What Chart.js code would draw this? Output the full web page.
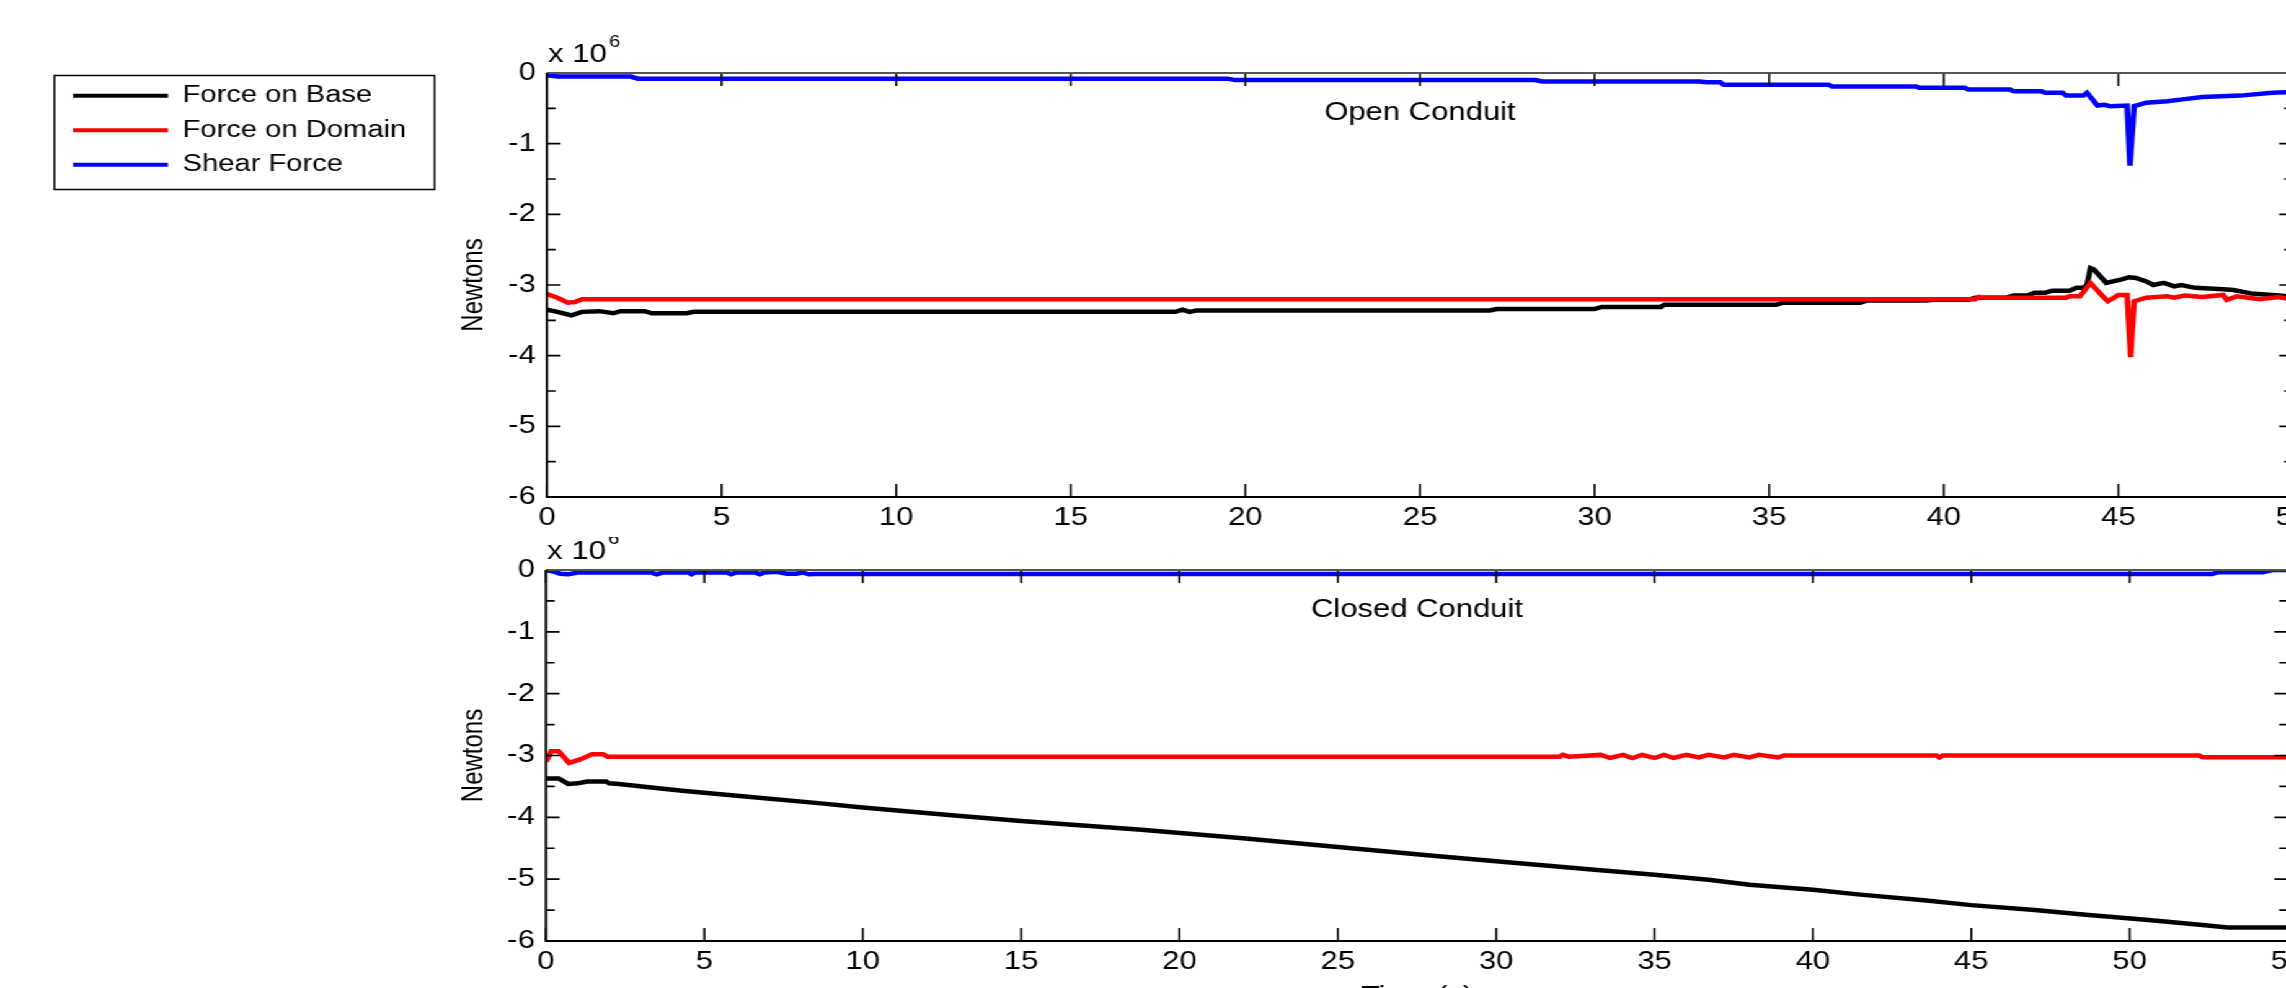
<!DOCTYPE html>
<html>
<head>
<meta charset="utf-8">
<title>Forces - open and closed conduit</title>
<script src="https://cdn.jsdelivr.net/npm/chart.js@4.4.1/dist/chart.umd.min.js"></script>
<style>
  html, body { margin: 0; padding: 0; background: #fff; overflow: hidden; width: 2286px; height: 988px; }
  /* the original figure is stretched sideways, so the whole drawing is too */
  #stretch { position: absolute; left: 0; top: 0; width: 1860px; height: 1016px; transform: scaleX(1.24); transform-origin: 0 0; }
  #stretch canvas { position: absolute; left: 0; }
  #openChart { top: 0; }
  #closedChart { top: 537px; }
</style>
</head>
<body>
<div id="stretch">
  <canvas id="openChart" width="1860" height="537"></canvas>
  <canvas id="closedChart" width="1860" height="479"></canvas>
</div>
<script>
// forces in 10^6 N, time in s
const seriesNames = ['Force on Base', 'Force on Domain', 'Shear Force'];
const seriesColors = ['#000000', '#ff0000', '#0000ff'];
const yTickLabels = [0, -1, -2, -3, -4, -5, -6];
const openTickLabels = [0, 5, 10, 15, 20, 25, 30, 35, 40, 45, 50];
const closedTickLabels = [0, 5, 10, 15, 20, 25, 30, 35, 40, 45, 50, 55];

// Open Conduit
const openBaseT = [0, 0.3, 0.7, 1.0, 1.5, 1.9, 2.1, 2.8, 3.0, 4.0, 4.2, 18.0, 18.2, 18.4, 18.6, 27.0, 27.2, 30.0, 30.2, 31.9, 32.0, 35.2, 35.4, 37.6, 37.8, 39.5, 39.7, 40.7, 40.9, 41.8, 42.0, 42.4, 42.6, 42.9, 43.1, 43.6, 43.8, 44.0, 44.1, 44.2, 44.3, 44.65, 45.1, 45.3, 45.5, 45.8, 46.0, 46.3, 46.6, 46.8, 47.2, 48.0, 48.3, 48.5, 48.8, 49.6, 50.0];
const openBaseF = [-3.35, -3.38, -3.43, -3.38, -3.37, -3.40, -3.37, -3.37, -3.40, -3.40, -3.38, -3.38, -3.35, -3.38, -3.36, -3.36, -3.34, -3.34, -3.31, -3.31, -3.28, -3.28, -3.25, -3.25, -3.22, -3.22, -3.21, -3.21, -3.18, -3.18, -3.15, -3.15, -3.11, -3.11, -3.08, -3.08, -3.04, -3.04, -3.00, -2.76, -2.78, -2.97, -2.92, -2.89, -2.90, -2.95, -3.00, -2.97, -3.02, -3.00, -3.04, -3.06, -3.07, -3.09, -3.12, -3.15, -3.17];

const openDomainT = [0, 0.3, 0.6, 0.8, 1.0, 40.9, 41.0, 41.1, 43.5, 43.6, 43.9, 44.2, 44.55, 44.7, 45.0, 45.25, 45.35, 45.45, 45.8, 46.4, 46.6, 46.9, 47.4, 48.0, 48.1, 48.4, 49.05, 49.6, 50.0];
const openDomainF = [-3.13, -3.18, -3.25, -3.24, -3.20, -3.20, -3.17, -3.18, -3.18, -3.16, -3.16, -2.97, -3.16, -3.23, -3.14, -3.14, -4.02, -3.23, -3.18, -3.16, -3.18, -3.15, -3.17, -3.14, -3.21, -3.16, -3.20, -3.17, -3.21];

const openShearT = [0, 0.3, 2.4, 2.6, 19.5, 19.7, 28.3, 28.5, 33.0, 33.2, 33.6, 33.7, 36.7, 36.8, 39.2, 39.3, 40.6, 40.7, 41.9, 42.0, 42.8, 42.9, 43.4, 43.5, 44.0, 44.1, 44.3, 44.4, 44.6, 44.76, 45.25, 45.33, 45.45, 45.8, 46.4, 46.9, 47.4, 48.5, 49.4, 50.0];
const openShearF = [-0.03, -0.05, -0.05, -0.08, -0.08, -0.10, -0.10, -0.12, -0.12, -0.13, -0.13, -0.165, -0.165, -0.19, -0.19, -0.21, -0.21, -0.235, -0.235, -0.26, -0.26, -0.28, -0.28, -0.32, -0.32, -0.28, -0.40, -0.46, -0.45, -0.47, -0.46, -1.31, -0.47, -0.42, -0.40, -0.37, -0.34, -0.32, -0.28, -0.27];

// Closed Conduit
const closedBaseT = [0, 0.4, 0.7, 1.0, 1.3, 1.9, 2.0, 2.3, 3.4, 4.3, 6.2, 8.6, 10.0, 12.9, 15.0, 18.8, 22.0, 25.0, 28.0, 30.0, 33.2, 35.0, 36.7, 38.0, 40.0, 41.5, 43.5, 45.0, 47.0, 48.7, 50.6, 52.3, 53.1, 55.0];
const closedBaseF = [-3.37, -3.37, -3.46, -3.45, -3.42, -3.42, -3.45, -3.46, -3.52, -3.57, -3.66, -3.77, -3.84, -3.97, -4.06, -4.20, -4.34, -4.48, -4.62, -4.71, -4.85, -4.93, -5.01, -5.09, -5.17, -5.25, -5.34, -5.42, -5.50, -5.58, -5.66, -5.74, -5.78, -5.78];

const closedDomainT = [0, 0.17, 0.4, 0.73, 1.1, 1.45, 1.8, 1.95, 32.0, 32.1, 32.3, 33.3, 33.6, 34.0, 34.3, 34.6, 35.0, 35.3, 35.6, 36.0, 36.4, 36.7, 37.2, 37.5, 38.0, 38.3, 38.9, 39.1, 43.9, 44.0, 44.1, 52.2, 52.3, 55.0];
const closedDomainF = [-3.10, -2.93, -2.93, -3.12, -3.06, -2.98, -2.98, -3.02, -3.02, -2.99, -3.02, -2.99, -3.04, -2.99, -3.04, -2.99, -3.04, -2.99, -3.04, -2.99, -3.03, -2.99, -3.03, -2.99, -3.03, -2.99, -3.03, -3.00, -3.00, -3.03, -3.00, -3.00, -3.03, -3.03];

const closedShearT = [0, 0.2, 0.45, 0.7, 1.0, 3.3, 3.5, 3.7, 4.5, 4.6, 4.7, 5.7, 5.85, 6.0, 6.6, 6.75, 6.9, 7.3, 7.6, 7.9, 8.1, 8.3, 8.5, 52.6, 52.8, 54.2, 54.5, 55.0];
const closedShearF = [0.0, -0.02, -0.06, -0.07, -0.04, -0.04, -0.07, -0.04, -0.04, -0.07, -0.04, -0.04, -0.07, -0.04, -0.04, -0.07, -0.04, -0.03, -0.06, -0.06, -0.04, -0.07, -0.065, -0.065, -0.035, -0.035, 0.0, 0.0];

const FONT = "'Liberation Sans', Arial, sans-serif";
Chart.defaults.font.family = FONT;
Chart.defaults.font.size = 25;
Chart.defaults.color = '#000';

// layout, in canvas units (x gets multiplied by 1.24 on screen)
const legendLeft = 47.9;
const legendWidth = 285;
const axisLeftEdge = legendLeft + legendWidth;
const newtonsX = 382;

function toPoints(ts, vs) {
    return ts.map((t, i) => ({ x: t, y: vs[i] }));
}

function makeDatasets(base, domain, shear) {
    return [base, domain, shear].map((pts, i) => ({
        label: seriesNames[i],
        data: pts,
        borderColor: seriesColors[i],
        backgroundColor: seriesColors[i],
        borderWidth: 4.5,
        pointRadius: 0,
        tension: 0,
        order: 3 - i   // red over black, blue over both
    }));
}

// MATLAB style box: inward ticks all round, the x 10^6 note and the panel caption
const matlabBox = {
    id: 'matlabBox',
    afterDatasetsDraw(chart, args, opts) {
        const { ctx, chartArea: a, scales: { x, y } } = chart;
        ctx.save();
        ctx.strokeStyle = '#000';
        ctx.lineWidth = 1.6;
        ctx.beginPath();
        x.ticks.forEach(t => {
            const px = x.getPixelForValue(t.value);
            ctx.moveTo(px, a.bottom); ctx.lineTo(px, a.bottom - 13);
            ctx.moveTo(px, a.top); ctx.lineTo(px, a.top + 13);
        });
        for (let v = y.min; v <= y.max + 1e-9; v += 0.5) {
            const py = y.getPixelForValue(v);
            const len = Number.isInteger(v) ? 11 : 7;
            ctx.moveTo(a.left, py); ctx.lineTo(a.left + len, py);
            ctx.moveTo(a.right, py); ctx.lineTo(a.right - len, py);
        }
        ctx.stroke();

        ctx.lineWidth = 2;
        ctx.strokeStyle = '#555';
        ctx.beginPath();
        ctx.moveTo(a.left, a.top); ctx.lineTo(a.right, a.top); ctx.lineTo(a.right, a.bottom);
        ctx.stroke();
        ctx.strokeStyle = '#000';
        ctx.beginPath();
        ctx.moveTo(a.left, a.top); ctx.lineTo(a.left, a.bottom); ctx.lineTo(a.right, a.bottom);
        ctx.stroke();

        ctx.fillStyle = '#000';
        ctx.textAlign = 'left';
        ctx.textBaseline = 'alphabetic';
        ctx.font = `25px ${FONT}`;
        ctx.fillText('x 10', a.left + 1, a.top - 11);
        const w = ctx.measureText('x 10').width;
        ctx.font = `16px ${FONT}`;
        ctx.fillText('6', a.left + 3 + w, a.top - 26);

        ctx.font = `25px ${FONT}`;
        ctx.textAlign = 'center';
        ctx.textBaseline = 'middle';
        ctx.fillText(opts.caption, (a.left + a.right) / 2, a.top + 40);
        ctx.restore();
    }
};

// frame round the legend
const legendFrame = {
    id: 'legendFrame',
    afterDraw(chart) {
        const legend = chart.legend;
        if (!legend || !legend.options.display) return;
        const hb = legend.legendHitBoxes;
        const last = hb[hb.length - 1];
        const left = Math.min(...hb.map(b => b.left)) - 15;
        const right = Math.max(...hb.map(b => b.left + b.width)) + 23;
        const top = hb[0].top - 8.5;
        const bottom = last.top + last.height + 13;
        const ctx = chart.ctx;
        ctx.save();
        ctx.strokeStyle = '#000';
        ctx.lineWidth = 1.5;
        ctx.strokeRect(left, top, right - left, bottom - top);
        ctx.restore();
    }
};

function xScale(ticks, height, title) {
    return {
        type: 'linear',
        min: ticks[0],
        max: ticks[ticks.length - 1],
        afterBuildTicks: s => { s.ticks = ticks.map(v => ({ value: v })); },
        afterFit: s => { s.height = height; s.paddingLeft = 0; s.paddingRight = 0; },
        grid: { display: false, drawTicks: false },
        border: { display: false },
        ticks: { padding: 6, maxRotation: 0, autoSkip: false },
        title: { display: !!title, text: title || '', padding: { top: 4, bottom: 4 } }
    };
}

function yScale(width) {
    return {
        type: 'linear',
        min: Math.min(...yTickLabels),
        max: Math.max(...yTickLabels),
        afterBuildTicks: s => { s.ticks = yTickLabels.map(v => ({ value: v })); },
        afterFit: s => { s.width = width; s.paddingTop = 0; s.paddingBottom = 0; },
        grid: { display: false, drawTicks: false },
        border: { display: false },
        ticks: { padding: 9 },
        title: { display: true, text: 'Newtons', font: { size: 24 }, padding: { top: newtonsX - axisLeftEdge - 14.4, bottom: 0 } }
    };
}

function createPanel(canvasId, datasets, opts) {
    const ctx = document.getElementById(canvasId).getContext('2d');
    return new Chart(ctx, {
        type: 'line',
        data: { datasets: datasets },
        options: {
            responsive: false,
            animation: false,
            events: [],
            layout: { padding: opts.padding },
            scales: {
                x: xScale(opts.xTicks, opts.xHeight, opts.xTitle),
                y: yScale(opts.yWidth)
            },
            plugins: {
                tooltip: { enabled: false },
                legend: {
                    display: opts.showLegend,
                    position: 'left',
                    align: 'start',
                    maxWidth: legendWidth,
                    labels: {
                        boxWidth: 76.6,
                        boxHeight: 4,
                        padding: 11,
                        font: { size: 23.5 },
                        generateLabels: chart => chart.data.datasets.map((ds, i) => ({
                            text: ds.label,
                            fillStyle: ds.borderColor,
                            strokeStyle: ds.borderColor,
                            lineWidth: 0,
                            hidden: false,
                            datasetIndex: i,
                            fontColor: '#000'
                        }))
                    }
                },
                matlabBox: { caption: opts.caption }
            }
        },
        plugins: [matlabBox, legendFrame]
    });
}

window.onload = function () {
    createPanel('openChart',
        makeDatasets(toPoints(openBaseT, openBaseF), toPoints(openDomainT, openDomainF), toPoints(openShearT, openShearF)),
        {
            caption: 'Open Conduit',
            showLegend: true,
            padding: { left: legendLeft, top: 73, right: 10.8, bottom: 0 },
            yWidth: 441.1 - axisLeftEdge,
            xTicks: openTickLabels,
            xHeight: 40
        });

    createPanel('closedChart',
        makeDatasets(toPoints(closedBaseT, closedBaseF), toPoints(closedDomainT, closedDomainF), toPoints(closedShearT, closedShearF)),
        {
            caption: 'Closed Conduit',
            showLegend: false,
            padding: { left: axisLeftEdge, top: 33, right: 14.8, bottom: 0 },
            yWidth: 440.3 - axisLeftEdge,
            xTicks: closedTickLabels,
            xHeight: 75,
            xTitle: 'Time (s)'
        });
};
</script>
</body>
</html>
